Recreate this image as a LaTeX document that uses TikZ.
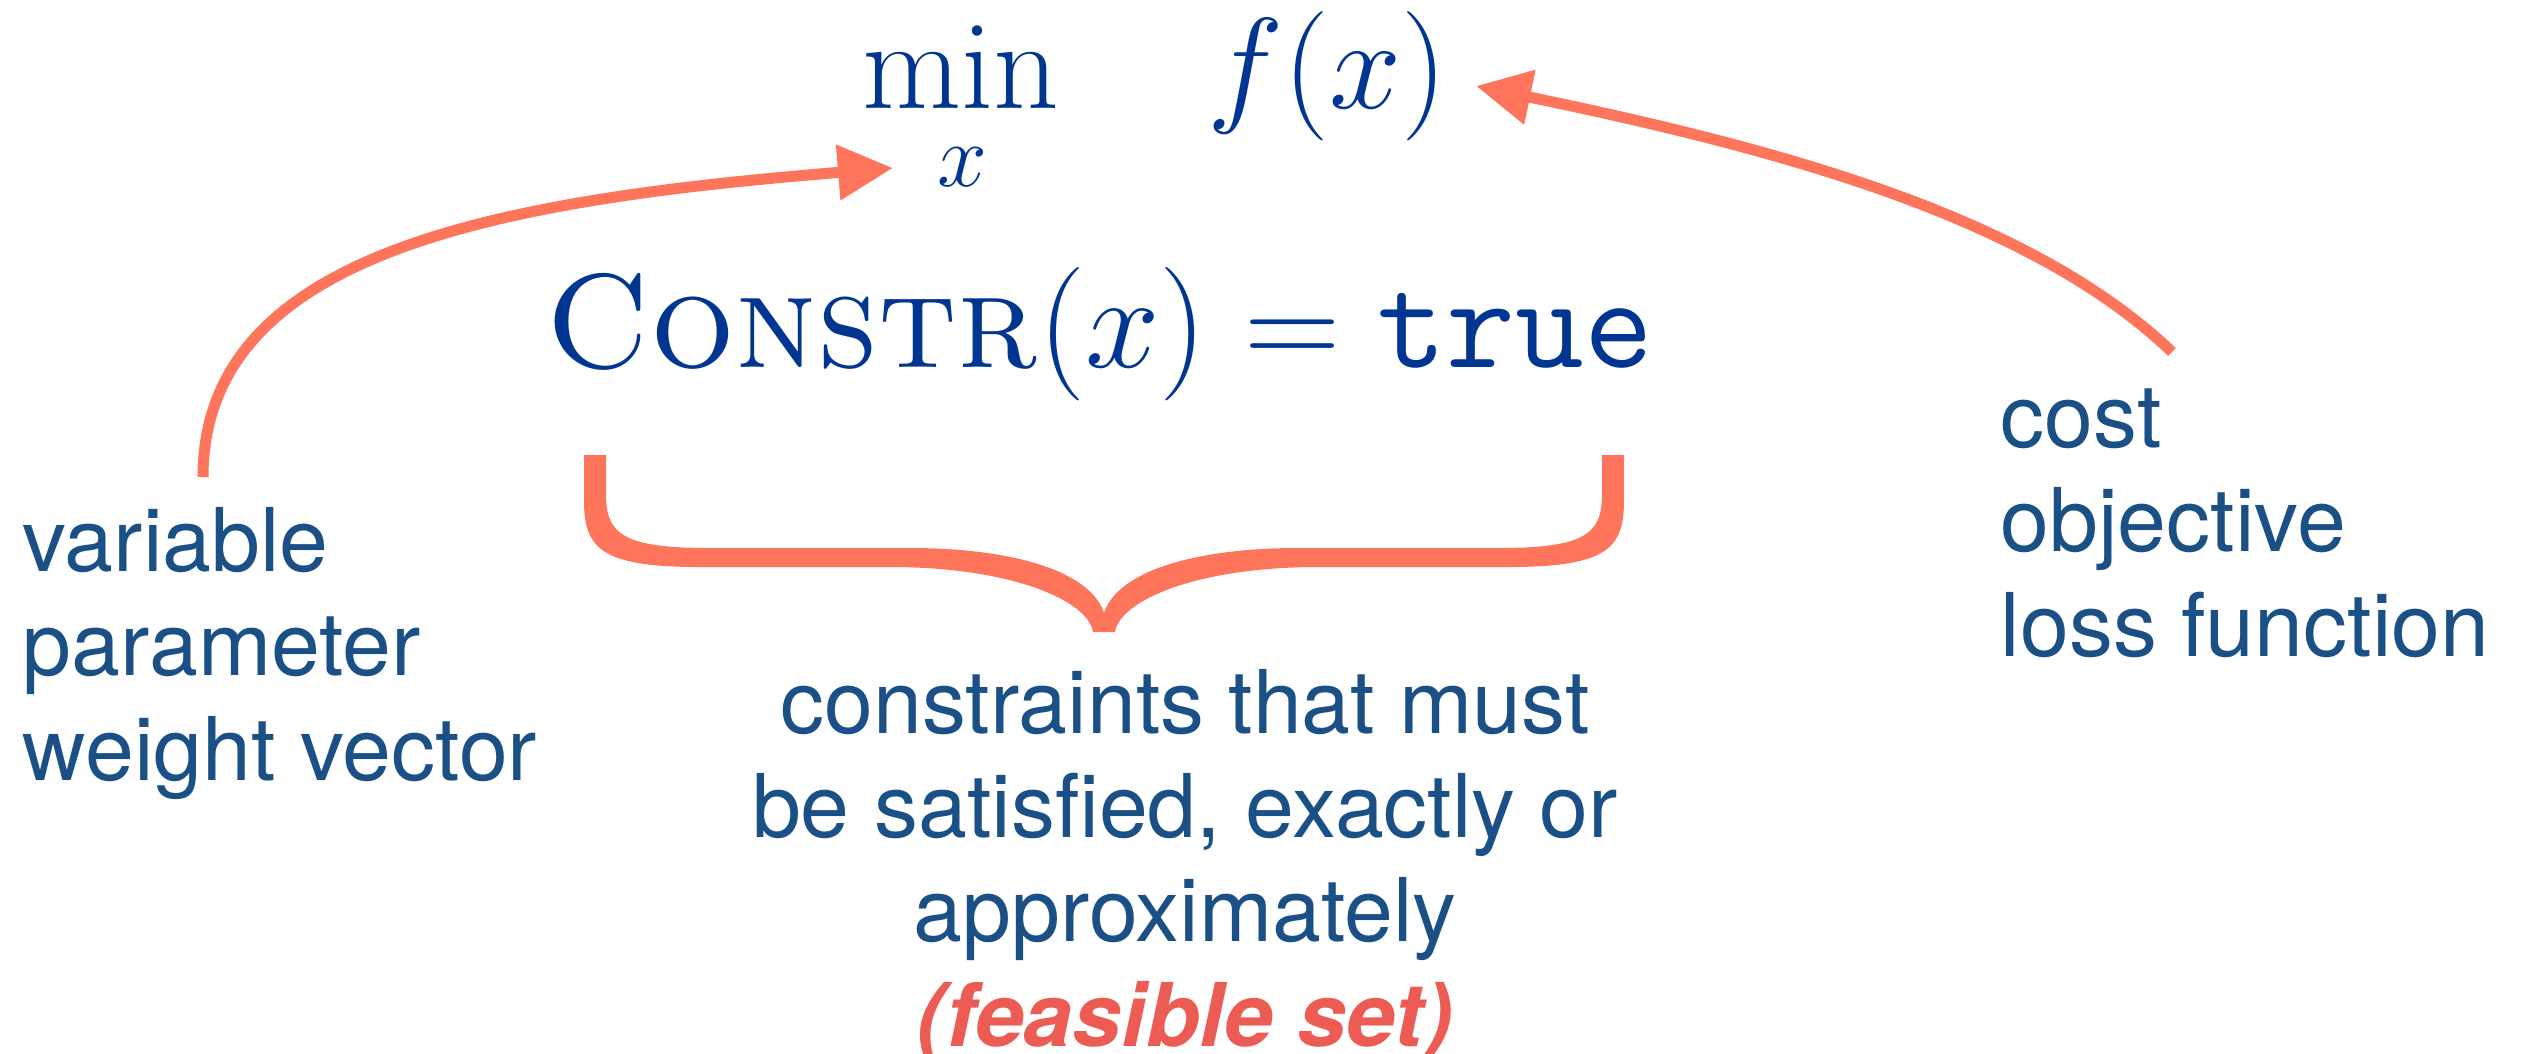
\RequirePackage{fix-cm}
\documentclass[tikz,border=0pt]{standalone}
\usepackage{fontspec}
\setsansfont{TeX Gyre Heros}
\usetikzlibrary{arrows.meta}
\definecolor{mathblue}{RGB}{0,53,145}
\definecolor{textblue}{RGB}{26,80,134}
\definecolor{accent}{RGB}{255,117,91}
\definecolor{feasred}{RGB}{236,92,85}
\tikzset{
  lbl/.style={inner sep=0pt,text=textblue,font=\sffamily\fontsize{25}{29.6}\selectfont},
  mathlbl/.style={inner sep=0pt,text=mathblue},
  pointer/.style={draw=accent,line width=0.11cm,-{Triangle[length=0.55cm,width=0.53cm]}}
}
\begin{document}
\begin{tikzpicture}[x=0.01cm,y=-0.01cm]
\path[use as bounding box] (0,0) rectangle (2523,1053);
\node[mathlbl,anchor=base,font=\fontsize{36.5}{40}\selectfont] (minop) at (961,108) {min};
\node[mathlbl,anchor=base,font=\fontsize{25.5}{30}\selectfont] (minvar) at (962,186) {$x$};
\node[mathlbl,anchor=base west,font=\fontsize{36.8}{40}\selectfont] (obj) at (1207,108) {$f(x)$};
\node[mathlbl,anchor=base west,font=\fontsize{38}{40}\selectfont] (constr) at (545,367) {$\textsc{Constr}(x)=\texttt{true}$};
\node[lbl,align=left,anchor=base west] (varlbl) at (22,780) {variable\\parameter\\weight vector};
\node[lbl,align=left,anchor=base west] (costlbl) at (2000,656) {cost\\objective\\loss function};
\node[lbl,align=center,anchor=base] (conlbl) at (1185,1046) {constraints that must\\be satisfied, exactly or\\approximately\\{\color{feasred}\bfseries\itshape (feasible set)}};
\coordinate (vartail) at (203,477);
\coordinate (mintip) at (893,168);
\coordinate (costtail) at (2172,352);
\coordinate (objtip) at (1476,86);
\draw[pointer] (vartail) .. controls (203,252) and (498,200) .. (mintip);
\draw[pointer] (costtail) .. controls (2028,214) and (1770,147) .. (objtip);
\fill[accent] (584,455) -- (584,500)
  .. controls (584,548) and (600,567) .. (700,567) -- (890,567)
  .. controls (1010,567) and (1088,600) .. (1093,632) -- (1115,632)
  .. controls (1120,600) and (1198,567) .. (1318,567) -- (1508,567)
  .. controls (1608,567) and (1624,548) .. (1624,500) -- (1624,455) -- (1602,455) -- (1602,495)
  .. controls (1602,535) and (1583,548) .. (1498,548) -- (1298,548)
  .. controls (1198,548) and (1118,570) .. (1104,613)
  .. controls (1090,570) and (1010,548) .. (910,548) -- (710,548)
  .. controls (625,548) and (606,535) .. (606,495) -- (606,455) -- cycle;
\end{tikzpicture}
\end{document}
